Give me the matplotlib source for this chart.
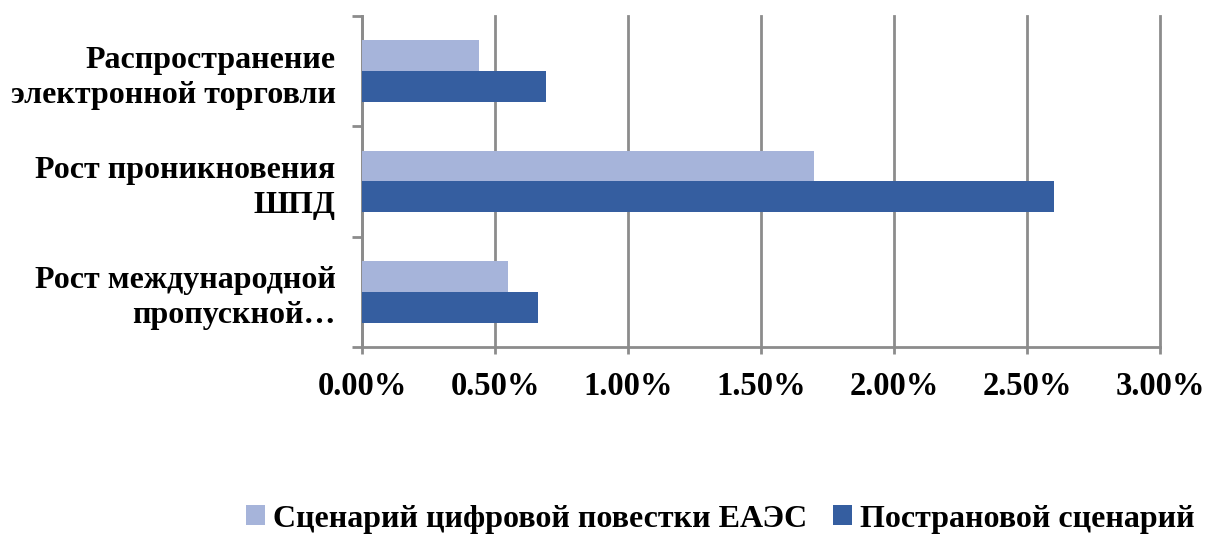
import matplotlib
matplotlib.use("Agg")
import matplotlib.pyplot as plt
import numpy as np

categories = ["Рост международной\nпропускной…", "Рост проникновения\nШПД", "Распространение\nэлектронной торговли"]
series_names = ["Сценарий цифровой повестки ЕАЭС", "Пострановой сценарий"]
eaes = [0.0055, 0.0170, 0.0044]
country = [0.0066, 0.0260, 0.0069]
xticks = [0, 0.005, 0.01, 0.015, 0.02, 0.025, 0.03]
xticklabels = ["0.00%", "0.50%", "1.00%", "1.50%", "2.00%", "2.50%", "3.00%"]

plt.rcParams['font.family'] = ['Liberation Serif', 'DejaVu Serif']
plt.rcParams['font.weight'] = 'bold'

fig = plt.figure(figsize=(12.08, 5.35), dpi=100)
ax = fig.add_axes([362/1208, 1-347/535, (1160-362)/1208, (347-16)/535])

light = '#A6B4DA'
dark = '#355EA0'
grid = '#8C8C8C'
y = np.arange(len(categories))
h = 0.28
ax.barh(y + h/2, eaes, height=h, color=light, label=series_names[0], zorder=3)
ax.barh(y - h/2, country, height=h, color=dark, label=series_names[1], zorder=3)

ax.set_xlim(0, 0.03)
ax.set_ylim(-0.5, 2.5)
ax.set_xticks(xticks)
ax.set_xticklabels(xticklabels, fontsize=23.5, fontweight='bold')
ax.set_yticks(y)
ax.set_yticklabels(categories, fontsize=23, fontweight='bold', linespacing=1.27)
ax.set_yticks([-0.5, 0.5, 1.5, 2.5], minor=True)
ax.tick_params(axis='y', which='major', length=0, pad=19)
ax.tick_params(axis='y', which='minor', length=7, width=2, color=grid)
ax.tick_params(axis='x', which='major', length=5, width=2, color=grid, pad=12)
ax.xaxis.grid(True, color=grid, linewidth=2, zorder=0)
for gl in ax.get_xgridlines():
    gl.set_clip_on(False)
for s in ['top', 'right']:
    ax.spines[s].set_visible(False)
for s in ['left', 'bottom']:
    ax.spines[s].set_color(grid)
    ax.spines[s].set_linewidth(2)

handles, labels = ax.get_legend_handles_labels()
fig.legend(handles, labels, loc='center', bbox_to_anchor=(720/1208, 1-519/535), ncol=2,
           frameon=False, prop={'size': 23, 'weight': 'bold'}, handlelength=0.6, handleheight=0.6,
           handletextpad=0.25, columnspacing=0.8)

fig.savefig('out.png', dpi=100)
